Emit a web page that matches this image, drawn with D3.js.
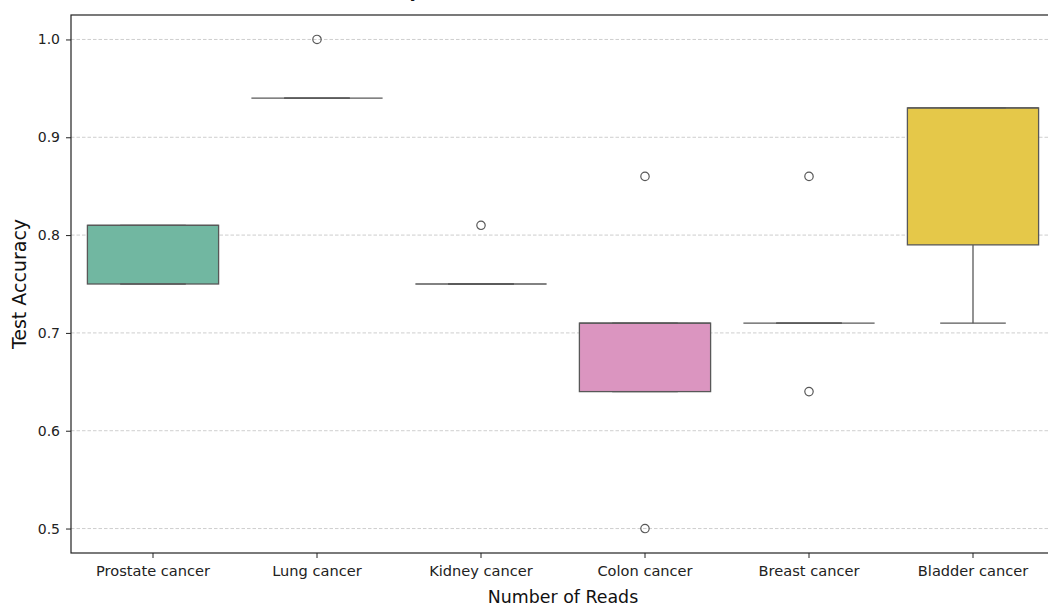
<!DOCTYPE html>
<html>
<head>
<meta charset="utf-8">
<script src="https://cdn.jsdelivr.net/npm/d3@7/dist/d3.min.js"></script>
<style>
  html, body { margin: 0; padding: 0; background: #ffffff; }
  svg { display: block; font-family: "DejaVu Sans", sans-serif; }
</style>
</head>
<body>
<svg id="chart" width="1048" height="607"></svg>
<script>
// Cancer types on the x axis
const categories = ["Prostate cancer", "Lung cancer", "Kidney cancer", "Colon cancer", "Breast cancer", "Bladder cancer"];

// Per-fold test accuracy for each cancer type
const prostateScores = [0.75, 0.75, 0.81, 0.81, 0.81];
const lungScores     = [0.94, 0.94, 0.94, 0.94, 1.00];
const kidneyScores   = [0.75, 0.75, 0.75, 0.75, 0.81];
const colonScores    = [0.50, 0.64, 0.71, 0.71, 0.86];
const breastScores   = [0.64, 0.71, 0.71, 0.71, 0.86];
const bladderScores  = [0.71, 0.79, 0.93, 0.93, 0.93];
const seriesScores = [prostateScores, lungScores, kidneyScores, colonScores, breastScores, bladderScores];

// Set2 palette, desaturated to 75%
const boxColors = ["#71b7a1", "#e39678", "#98a4c4", "#db95c0", "#a5c868", "#e5c849"];

const yTicks = [0.5, 0.6, 0.7, 0.8, 0.9, 1.0];

const svg = d3.select("#chart");
const margin = { left: 71, top: 15, right: 1055, bottom: 553 };

const allValues = seriesScores.flat();
const [lo, hi] = d3.extent(allValues);
const pad = (hi - lo) * 0.05;

const x = d3.scaleBand().domain(categories).range([margin.left, margin.right]).paddingInner(0).paddingOuter(0);
const y = d3.scaleLinear().domain([lo - pad, hi + pad]).range([margin.bottom, margin.top]);

const lineColor = "#585858";

// Horizontal dashed grid
svg.append("g")
  .selectAll("line")
  .data(yTicks)
  .join("line")
  .attr("x1", margin.left).attr("x2", margin.right)
  .attr("y1", d => y(d)).attr("y2", d => y(d))
  .attr("stroke", "#c8c8c8")
  .attr("stroke-width", 0.9)
  .attr("stroke-dasharray", "3.5,2");

// Box statistics using 1.5 IQR whiskers
function boxStats(values) {
  const s = values.slice().sort(d3.ascending);
  const q1 = d3.quantileSorted(s, 0.25);
  const med = d3.quantileSorted(s, 0.5);
  const q3 = d3.quantileSorted(s, 0.75);
  const iqr = q3 - q1;
  const loF = q1 - 1.5 * iqr - 1e-9, hiF = q3 + 1.5 * iqr + 1e-9;
  const inside = s.filter(v => v >= loF && v <= hiF);
  return {
    q1, med, q3,
    wLo: d3.min(inside), wHi: d3.max(inside),
    outliers: s.filter(v => v < loF || v > hiF)
  };
}

const bw = x.bandwidth() * 0.8;
const capW = bw / 2;

const boxes = svg.append("g")
  .selectAll("g")
  .data(categories.map((c, i) => ({ c, i, st: boxStats(seriesScores[i]) })))
  .join("g")
  .attr("transform", d => `translate(${x(d.c) + x.bandwidth() / 2},0)`);

// Whiskers
boxes.append("line")
  .attr("x1", 0).attr("x2", 0)
  .attr("y1", d => y(d.st.q1)).attr("y2", d => y(d.st.wLo))
  .attr("stroke", lineColor).attr("stroke-width", 1.3);
boxes.append("line")
  .attr("x1", 0).attr("x2", 0)
  .attr("y1", d => y(d.st.q3)).attr("y2", d => y(d.st.wHi))
  .attr("stroke", lineColor).attr("stroke-width", 1.3);

// Boxes
boxes.append("rect")
  .attr("x", -bw / 2).attr("width", bw)
  .attr("y", d => y(d.st.q3))
  .attr("height", d => Math.max(0, y(d.st.q1) - y(d.st.q3)))
  .attr("fill", d => boxColors[d.i])
  .attr("stroke", lineColor).attr("stroke-width", 1.3);

// Medians
boxes.append("line")
  .attr("x1", -bw / 2).attr("x2", bw / 2)
  .attr("y1", d => y(d.st.med)).attr("y2", d => y(d.st.med))
  .attr("stroke", lineColor).attr("stroke-width", 1.3);

// Caps
boxes.selectAll("line.cap")
  .data(d => [d.st.wLo, d.st.wHi])
  .join("line")
  .attr("class", "cap")
  .attr("x1", -capW / 2).attr("x2", capW / 2)
  .attr("y1", v => y(v)).attr("y2", v => y(v))
  .attr("stroke", lineColor).attr("stroke-width", 1.3);

// Outliers
boxes.selectAll("circle")
  .data(d => d.st.outliers)
  .join("circle")
  .attr("cx", 0).attr("cy", v => y(v)).attr("r", 4.2)
  .attr("fill", "none").attr("stroke", lineColor).attr("stroke-width", 1.2);

// Axes
const xAxis = svg.append("g")
  .attr("transform", `translate(0,${margin.bottom})`)
  .call(d3.axisBottom(x).tickSize(5).tickPadding(8));
const yAxis = svg.append("g")
  .attr("transform", `translate(${margin.left},0)`)
  .call(d3.axisLeft(y).tickValues(yTicks).tickFormat(d3.format(".1f")).tickSize(5).tickPadding(6));

[xAxis, yAxis].forEach(g => {
  g.select(".domain").remove();
  g.selectAll(".tick line").attr("stroke", "#222").attr("stroke-width", 1);
  g.selectAll(".tick text").attr("fill", "#222").style("font-family", "DejaVu Sans, sans-serif");
});
xAxis.selectAll(".tick text").style("font-size", "14.6px");
yAxis.selectAll(".tick text").style("font-size", "14px");

// Frame
svg.append("rect")
  .attr("x", margin.left).attr("y", margin.top)
  .attr("width", margin.right - margin.left).attr("height", margin.bottom - margin.top)
  .attr("fill", "none").attr("stroke", "#222").attr("stroke-width", 1.2);

// Labels
svg.append("text")
  .attr("x", (margin.left + margin.right) / 2).attr("y", 603)
  .attr("text-anchor", "middle")
  .style("font-size", "17.4px").attr("fill", "#111")
  .text("Number of Reads");

svg.append("text")
  .attr("transform", `translate(26,${(margin.top + margin.bottom) / 2}) rotate(-90)`)
  .attr("text-anchor", "middle")
  .style("font-size", "19px").attr("fill", "#111")
  .text("Test Accuracy");

// Title sits above the top edge of the canvas; only its descenders reach in
svg.append("text")
  .attr("x", (margin.left + margin.right) / 2).attr("y", -3.5)
  .attr("text-anchor", "middle")
  .style("font-size", "19.4px").attr("fill", "#111")
  .text("Test Accuracy Distribution for Different Number of Reads");
</script>
</body>
</html>
